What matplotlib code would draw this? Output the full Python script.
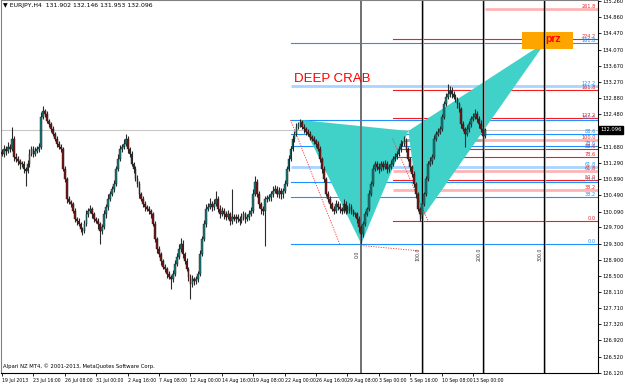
import matplotlib
matplotlib.use('Agg')
import matplotlib.pyplot as plt
from matplotlib.patches import Polygon, Rectangle
import matplotlib.transforms as mtransforms

plt.rcParams['font.family'] = ['DejaVu Sans']

# ---------------- data ----------------
first_open = 131.55
closes = [
    131.51,131.63,131.58,131.68,131.63,131.88,131.43,131.38,131.33,131.26,
    131.26,131.14,131.09,131.26,131.51,131.63,131.51,131.58,131.63,131.68,
    132.42,132.56,132.49,132.32,132.24,132.12,132.00,131.88,131.75,131.68,
    131.63,131.14,130.89,130.40,130.33,130.28,130.11,129.91,129.86,129.79,
    129.66,129.61,129.79,130.03,130.11,130.16,130.03,129.91,129.86,129.79,
    129.61,129.71,130.03,130.21,130.40,130.52,130.65,130.77,131.14,131.38,
    131.63,131.68,131.75,131.88,131.63,131.51,131.26,131.14,130.89,130.77,
    130.52,130.40,130.28,130.21,130.16,130.11,130.03,129.79,129.42,129.17,
    129.05,128.88,128.73,128.68,128.56,128.49,128.44,128.56,128.80,128.98,
    129.17,129.30,129.05,128.88,128.68,128.49,128.31,128.44,128.39,128.44,
    128.56,129.05,129.42,129.79,130.16,130.21,130.28,130.21,130.28,130.40,
    130.16,130.03,130.11,130.03,129.96,130.03,129.86,129.96,129.91,129.96,
    129.91,129.86,129.96,130.03,129.91,129.96,130.03,130.11,130.52,130.82,
    130.52,130.28,130.16,130.11,130.40,130.40,130.45,130.52,130.60,130.65,
    130.52,130.60,130.52,130.60,130.77,131.14,131.38,131.63,131.88,132.00,
    132.17,132.24,132.29,132.17,132.12,132.05,132.00,131.93,131.88,131.83,
    131.75,131.63,131.38,131.14,130.89,130.52,130.40,130.28,130.16,130.11,
    130.28,130.21,130.16,130.11,130.28,130.11,130.16,130.21,130.11,130.03,
    130.03,129.91,129.71,129.54,129.79,130.03,130.16,130.52,130.77,131.14,
    131.26,131.19,131.14,131.26,131.19,131.26,131.14,131.19,131.26,131.38,
    131.43,131.51,131.63,131.75,131.75,131.83,131.63,131.38,131.19,131.02,
    130.77,130.52,130.16,130.03,130.28,130.52,130.89,131.26,131.33,131.43,
    131.88,132.00,132.05,132.12,132.42,132.73,132.91,132.98,133.05,132.98,
    132.91,132.86,132.73,132.61,132.24,132.12,132.00,132.12,132.24,132.37,
    132.42,132.49,132.37,132.24,132.12,131.953,132.096]
upper_wick = [
    .08,.10,.06,.12,.08,.29,.06,.10,.08,.06,
    .08,.06,.05,.10,.12,.08,.06,.10,.08,.10,
    .12,.12,.06,.08,.05,.06,.08,.05,.06,.08,
    .06,.05,.08,.05,.06,.05,.04,.06,.05,.06,
    .05,.06,.08,.10,.06,.08,.05,.06,.05,.06,
    .05,.08,.10,.06,.12,.08,.06,.10,.08,.12,
    .10,.08,.13,.12,.06,.05,.08,.05,.06,.10,
    .06,.05,.08,.06,.05,.06,.05,.04,.06,.05,
    .06,.05,.04,.06,.05,.06,.05,.08,.10,.08,
    .12,.15,.08,.05,.06,.05,.06,.08,.05,.06,
    .06,.10,.08,.10,.12,.10,.15,.08,.12,.20,
    .06,.08,.10,.06,.08,.10,.06,.69,.08,.06,
    .08,.06,.10,.08,.06,.08,.10,.08,.12,.14,
    .06,.08,.05,.06,.08,.10,.06,.08,.12,.10,
    .06,.10,.08,.06,.10,.08,.10,.08,.10,.08,
    .10,.06,.08,.06,.08,.05,.06,.08,.05,.06,
    .05,.08,.06,.05,.06,.05,.08,.06,.05,.06,
    .10,.06,.08,.05,.12,.06,.08,.10,.06,.05,
    .06,.05,.08,.05,.06,.08,.05,.10,.08,.10,
    .08,.06,.10,.08,.06,.10,.08,.06,.10,.08,
    .10,.08,.06,.10,.08,.12,.06,.05,.06,.05,
    .06,.05,.06,.05,.08,.06,.08,.06,.10,.08,
    .08,.06,.10,.08,.06,.08,.10,.25,.12,.10,
    .08,.06,.05,.06,.05,.08,.06,.10,.08,.06,
    .10,.12,.06,.08,.10,.06,.05]
lower_wick = [
    .06,.08,.10,.06,.08,.05,.10,.08,.10,.12,
    .08,.10,.37,.06,.08,.05,.08,.06,.05,.08,
    .05,.06,.08,.05,.06,.08,.05,.06,.08,.06,
    .08,.06,.08,.10,.06,.08,.06,.08,.10,.06,
    .08,.10,.06,.05,.08,.06,.10,.08,.06,.12,
    .31,.08,.06,.10,.08,.06,.05,.08,.06,.05,
    .06,.08,.05,.06,.10,.08,.06,.10,.06,.08,
    .10,.06,.08,.10,.06,.08,.10,.06,.08,.10,
    .08,.10,.06,.08,.10,.06,.25,.08,.06,.05,
    .06,.08,.10,.08,.06,.10,.37,.08,.10,.08,
    .08,.06,.05,.06,.08,.06,.05,.10,.08,.06,
    .08,.10,.06,.12,.08,.06,.10,.08,.06,.10,
    .08,.10,.06,.08,.10,.06,.08,.06,.05,.06,
    .08,.10,.12,.10,.86,.08,.06,.10,.08,.06,
    .08,.10,.12,.10,.06,.05,.06,.05,.06,.08,
    .06,.05,.08,.06,.10,.08,.06,.08,.06,.08,
    .08,.06,.08,.10,.08,.06,.08,.10,.06,.08,
    .06,.08,.10,.08,.06,.08,.06,.10,.08,.06,
    .08,.10,.12,.24,.08,.06,.05,.06,.05,.06,
    .06,.08,.10,.06,.08,.06,.10,.08,.06,.05,
    .06,.05,.06,.08,.06,.05,.08,.06,.10,.08,
    .08,.10,.06,.17,.06,.05,.06,.05,.06,.08,
    .05,.06,.05,.06,.05,.06,.05,.06,.08,.10,
    .06,.08,.10,.08,.10,.06,.32,.06,.08,.06,
    .05,.06,.08,.10,.08,.37,.05]

date_labels = ["19 Jul 2013", "23 Jul 16:00", "26 Jul 08:00", "31 Jul 00:00",
               "2 Aug 16:00", "7 Aug 08:00", "12 Aug 00:00", "14 Aug 16:00",
               "19 Aug 08:00", "22 Aug 00:00", "26 Aug 16:00", "29 Aug 08:00",
               "3 Sep 00:00", "5 Sep 16:00", "10 Sep 08:00", "13 Sep 00:00"]
bars_per_label = 16

price_ticks = [126.12, 126.52, 126.92, 127.32, 127.71, 128.11, 128.50, 128.90,
               129.30, 129.70, 130.09, 130.49, 130.89, 131.29, 131.68, 132.48,
               132.88, 133.27, 133.67, 134.07, 134.47, 134.86, 135.26]

bid = 132.096
title_text = "\u25bc EURJPY,H4  131.902 132.146 131.953 132.096"
copyright_text = "Alpari NZ MT4, \u00a9 2001-2013, MetaQuotes Software Corp."

# Fibonacci (XA retracement, blue) and (BC extension, red)
xa_zero, xa_hundred, xa_start = 129.295, 132.342, 147
xa_levels = [0.0, 38.2, 50.0, 61.8, 78.6, 88.6, 100.0, 127.2, 161.8]
xa_light = [61.8, 127.2]
bc_zero, bc_hundred, bc_start = 129.860, 131.851, 199
bc_levels = [0.0, 38.2, 50.0, 61.8, 78.6, 88.6, 100.0, 127.2, 161.8, 224.2, 261.8]
bc_light = [38.2, 61.8, 100.0, 261.8]
bc_late_start = {261.8: 246}
bc_gray_level, bc_gray_end = 100.0, 244

# harmonic pattern points (bar index, price)
pat_X = (152, 132.342)
pat_A = (183, 129.295)
pat_B = (207, 132.07)
pat_C = (213, 129.86)
pat_D = (277, 134.26)

# time zones
time_lines = [183, 214, 245, 276]
time_labels = ["0.0", "100.0", "200.0", "300.0"]

# zigzag dotted
zig1 = [(147, 132.342), (172, 129.295)]
zig2 = [(184, 129.25), (212, 129.125)]
zig3 = [(199, 131.88), (217, 129.86)]

prz_box = (265, 291, 134.09, 134.50)

# ---------------- figure ----------------
W, H = 625, 385
fig = plt.figure(figsize=(W/100, H/100), dpi=100)
fig.patch.set_facecolor('white')
ax = fig.add_axes([1/W, 12/H, 597/W, 373/H])
ax.set_xlim(-0.5, 303.6)
ax.set_ylim(126.15, 135.29)

n = len(closes)
opens = [first_open] + closes[:-1]
idx = list(range(n))
highs = [max(o, c) + u for o, c, u in zip(opens, closes, upper_wick)]
lows = [min(o, c) - l for o, c, l in zip(opens, closes, lower_wick)]

# teal pattern
ax.add_patch(Polygon([pat_X, pat_A, pat_B], closed=True, facecolor='#40D2C9',
                     edgecolor='none', zorder=1))
ax.add_patch(Polygon([pat_B, pat_C, pat_D], closed=True, facecolor='#40D2C9',
                     edgecolor='none', zorder=1))

# prz box
ax.add_patch(Rectangle((prz_box[0], prz_box[2]), prz_box[1]-prz_box[0],
                       prz_box[3]-prz_box[2], facecolor='#FFA500',
                       edgecolor='none', zorder=1.5))
ax.text(276.8, 134.34, "prz", color='#FF0000', fontsize=7.5, fontweight='bold',
        ha='left', va='center', zorder=6, family='Liberation Sans')

# bid line
ax.axhline(bid, color='#C8C8C8', lw=0.8, zorder=0.8)

# fib lines
ytrans = mtransforms.blended_transform_factory(ax.transAxes, ax.transData)
def fib(zero, hundred, start, levels, light, col, lightcol, late=None):
    late = late or {}
    for lv in levels:
        p = zero + (hundred - zero) * lv / 100.0
        s = late.get(lv, start)
        if lv in light:
            ax.plot([s, 303.6], [p, p], color=lightcol, lw=2.0, zorder=0.9,
                    solid_capstyle='butt')
        else:
            ax.plot([s, 303.6], [p, p], color=col, lw=0.8, zorder=0.9)
        ax.text(0.996, p, "%.1f" % lv, transform=ytrans,
                ha='right', va='bottom', fontsize=3.6, color=col, zorder=7)

fib(xa_zero, xa_hundred, xa_start, xa_levels, xa_light, '#1E90FF', '#A8D4FF')
fib(bc_zero, bc_hundred, bc_start, bc_levels, bc_light, '#F02020', '#FFB4B4',
    bc_late_start)
pg = bc_zero + (bc_hundred - bc_zero) * bc_gray_level / 100.0
ax.plot([bc_start, bc_gray_end], [pg, pg], color='#A8A8A8', lw=2.0, zorder=0.95,
        solid_capstyle='butt')

# time lines
for t, lab in zip(time_lines, time_labels):
    if t == time_lines[0]:
        ax.axvline(t, color='#707070', lw=1.4, zorder=2)
    else:
        ax.axvline(t, color='#000000', lw=1.0, zorder=2)
        ax.axvline(t + 0.6, color='#A0A0A0', lw=0.6, zorder=2)
    ax.text(t - 0.8, 129.05, lab, rotation=90, fontsize=3.4, ha='right',
            va='center', color='#333333', zorder=7)

# zigzag dotted
for seg in (zig1, zig2, zig3):
    ax.plot([seg[0][0], seg[1][0]], [seg[0][1], seg[1][1]], color='#FF3030',
            lw=0.6, ls=(0, (1.5, 1.5)), zorder=2.5)

# candles
ax.vlines(idx, lows, highs, color='#2A2A2A', lw=0.8, zorder=3)
bull = [c >= o for o, c in zip(opens, closes)]
colors = ['#127A78' if b else '#7A1212' for b in bull]
ax.bar(idx, [max(abs(c - o), 0.012) for o, c in zip(opens, closes)],
       bottom=[min(o, c) for o, c in zip(opens, closes)], width=0.9,
       color=colors, edgecolor='#202020', linewidth=0.3, zorder=4)

# texts
ax.text(148.5, 133.35, "DEEP CRAB", color='#FF0000', fontsize=9.5,
        family='Liberation Sans', ha='left', va='center', zorder=6)
fig.text(3/W, 1 - 6/H, title_text, fontsize=4.4, ha='left', va='center', color='#000000')
ax.text(0.004, 0.012, copyright_text, transform=ax.transAxes, fontsize=3.8,
        ha='left', va='bottom', color='#000000')

# axes styling
for s in ['top', 'left']:
    ax.spines[s].set_color('#808080')
    ax.spines[s].set_linewidth(0.8)
for s in ['bottom', 'right']:
    ax.spines[s].set_color('#000000')
    ax.spines[s].set_linewidth(0.8)

ax.yaxis.tick_right()
ax.set_yticks(price_ticks)
ax.set_yticklabels(["%.3f" % v for v in price_ticks])
ax.tick_params(axis='y', which='both', direction='out', length=2, width=0.6,
               labelsize=3.7, pad=1.0, colors='#000000')
xt = [i * bars_per_label for i in range(len(date_labels))]
ax.set_xticks(xt)
ax.set_xticklabels(date_labels)
for lab in ax.get_xticklabels():
    lab.set_horizontalalignment('left')
ax.tick_params(axis='x', direction='out', length=2, width=0.6, labelsize=3.3,
               pad=1.5)

# current price box
ax.text(1.004, bid, "132.096", transform=ytrans,
        ha='left', va='center', fontsize=3.7, color='white', zorder=10,
        bbox=dict(boxstyle='square,pad=0.25', facecolor='black', edgecolor='black'),
        clip_on=False)

fig.savefig('out.png', dpi=100, facecolor='white')
